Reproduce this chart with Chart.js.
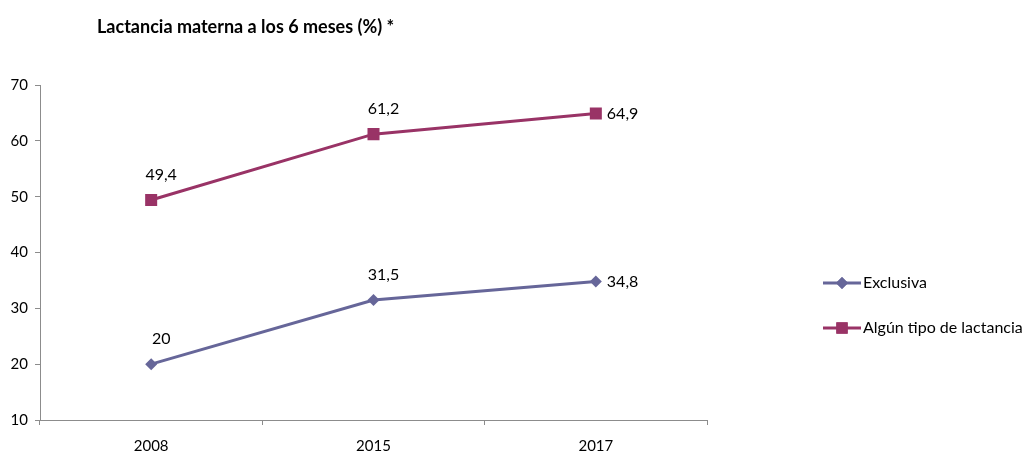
<!DOCTYPE html>
<html>
<head>
<meta charset="utf-8">
<script src="https://cdn.jsdelivr.net/npm/chart.js@4"></script>
<style>
    html, body { margin: 0; padding: 0; background: #ffffff; }
    #wrap { position: relative; width: 1028px; height: 459px; }
</style>
</head>
<body>
<div id="wrap"><canvas id="chart" width="1028" height="459"></canvas></div>
<script>
// Chart data
const titleText = 'Lactancia materna a los 6 meses (%) *';
const years = ['2008', '2015', '2017'];
const exclusiva = [20, 31.5, 34.8];
const algunTipo = [49.4, 61.2, 64.9];
const seriesNames = ['Exclusiva', 'Algún tipo de lactancia'];
const yTicks = [10, 20, 30, 40, 50, 60, 70];

const FONT = 'Lato, "Open Sans", sans-serif';
const colExclusiva = '#666699';
const colAlgun = '#993366';
const axisColor = '#8c8c8c';

const fmt = v => String(v).replace('.', ',');

// Title, value labels and legend drawn on the canvas
const decorations = {
    id: 'decorations',
    afterDatasetsDraw(chart) {
        const ctx = chart.ctx;
        ctx.save();

        // title
        ctx.fillStyle = '#000000';
        ctx.font = 'bold 18px ' + FONT;
        ctx.textAlign = 'left';
        ctx.textBaseline = 'middle';
        ctx.fillText(titleText, 97, 27);

        // value labels: above for first two points, right of the last one
        ctx.font = '16px ' + FONT;
        chart.data.datasets.forEach((ds, di) => {
            const meta = chart.getDatasetMeta(di);
            meta.data.forEach((pt, i) => {
                const txt = fmt(ds.data[i]);
                if (i === meta.data.length - 1) {
                    ctx.textAlign = 'left';
                    ctx.fillText(txt, pt.x + 11, pt.y);
                } else {
                    ctx.textAlign = 'center';
                    ctx.fillText(txt, pt.x + 10, pt.y - 25);
                }
            });
        });

        // legend
        const items = [
            { name: seriesNames[0], color: colExclusiva, style: 'rectRot', radius: 6, y: 283 },
            { name: seriesNames[1], color: colAlgun, style: 'rect', radius: 8, y: 328 }
        ];
        items.forEach(it => {
            ctx.strokeStyle = it.color;
            ctx.lineWidth = 3;
            ctx.beginPath();
            ctx.moveTo(823, it.y);
            ctx.lineTo(861, it.y);
            ctx.stroke();
            ctx.fillStyle = it.color;
            Chart.helpers.drawPoint(ctx, { pointStyle: it.style, radius: it.radius, borderWidth: 0 }, 842, it.y);
            ctx.fill();
            ctx.fillStyle = '#000000';
            ctx.textAlign = 'left';
            ctx.fillText(it.name, 863, it.y);
        });

        ctx.restore();
    }
};

new Chart(document.getElementById('chart').getContext('2d'), {
    type: 'line',
    data: {
        labels: years,
        datasets: [
            {
                label: seriesNames[0],
                data: exclusiva,
                borderColor: colExclusiva,
                backgroundColor: colExclusiva,
                borderWidth: 3,
                pointStyle: 'rectRot',
                pointRadius: 6,
                pointBorderWidth: 0,
                tension: 0
            },
            {
                label: seriesNames[1],
                data: algunTipo,
                borderColor: colAlgun,
                backgroundColor: colAlgun,
                borderWidth: 3,
                pointStyle: 'rect',
                pointRadius: 8.5,
                pointBorderWidth: 0,
                tension: 0
            }
        ]
    },
    options: {
        responsive: false,
        animation: false,
        layout: {
            padding: { left: 0, top: 85, right: 321, bottom: 0 }
        },
        plugins: {
            legend: { display: false },
            title: { display: false },
            tooltip: { enabled: false }
        },
        scales: {
            x: {
                offset: true,
                afterFit: scale => { scale.height = 39; },
                grid: {
                    offset: true,
                    drawOnChartArea: false,
                    drawTicks: true,
                    tickLength: 5,
                    color: axisColor
                },
                border: { color: axisColor, width: 1 },
                ticks: {
                    color: '#000000',
                    padding: 12,
                    font: { family: FONT, size: 15 }
                }
            },
            y: {
                min: 10,
                max: 70,
                afterFit: scale => { scale.width = 40; },
                afterBuildTicks: scale => {
                    scale.ticks = yTicks.map(v => ({ value: v }));
                },
                grid: {
                    drawOnChartArea: false,
                    drawTicks: true,
                    tickLength: 5,
                    color: axisColor
                },
                border: { color: axisColor, width: 1 },
                ticks: {
                    color: '#000000',
                    padding: 7,
                    font: { family: FONT, size: 15 }
                }
            }
        }
    },
    plugins: [decorations]
});
</script>
</body>
</html>
